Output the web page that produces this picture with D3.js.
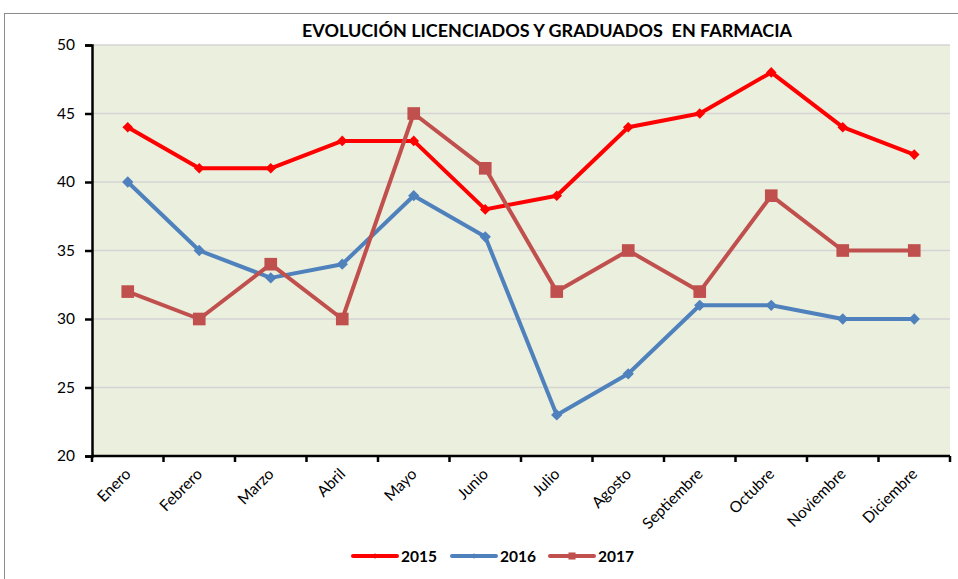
<!DOCTYPE html>
<html>
<head>
<meta charset="utf-8">
<script src="https://cdn.jsdelivr.net/npm/d3@7"></script>
<style>
  body { margin: 0; background: #fff; }
  svg { display: block; font-family: Lato, "Open Sans", sans-serif; }
</style>
</head>
<body>
<svg id="chart"></svg>
<script>
let months = ["Enero", "Febrero", "Marzo", "Abril", "Mayo", "Junio", "Julio",
    "Agosto", "Septiembre", "Octubre", "Noviembre", "Diciembre"];
let values2015 = [44, 41, 41, 43, 43, 38, 39, 44, 45, 48, 44, 42];
let values2016 = [40, 35, 33, 34, 39, 36, 23, 26, 31, 31, 30, 30];
let values2017 = [32, 30, 34, 30, 45, 41, 32, 35, 32, 39, 35, 35];
let yTicks = [20, 25, 30, 35, 40, 45, 50];

function chartConfig(){
    let width = 958;
    let height = 579;
    let margin = {top: 45, bottom: 123, left: 92, right: 8};
    let bodyWidth = width - margin.left - margin.right;
    let bodyHeight = height - margin.top - margin.bottom;
    let container = d3.select("#chart")
        .attr("width", width)
        .attr("height", height);
    return {width, height, margin, bodyWidth, bodyHeight, container};
}

function chartScales(config){
    let {bodyWidth, bodyHeight} = config;
    let xScale = d3.scaleBand().domain(months).range([0, bodyWidth]);
    let yScale = d3.scaleLinear().domain([20, 50]).range([bodyHeight, 0]);
    return {xScale, yScale};
}

function drawChart(){
    let config = chartConfig();
    let {margin, container, bodyWidth, bodyHeight, width, height} = config;
    let {xScale, yScale} = chartScales(config);

    // outer frame
    container.append("rect")
        .attr("x", 4.5).attr("y", 13.5)
        .attr("width", width).attr("height", height)
        .attr("fill", "none").attr("stroke", "#8c8c8c").attr("stroke-width", 1);

    container.append("text")
        .attr("x", 302).attr("y", 37)
        .attr("font-weight", "bold").attr("font-size", 16.5)
        .attr("textLength", 490).attr("lengthAdjust", "spacingAndGlyphs")
        .attr("fill", "#000")
        .style("white-space", "pre")
        .text("EVOLUCIÓN LICENCIADOS Y GRADUADOS  EN FARMACIA");

    let body = container.append("g")
        .attr("transform", `translate(${margin.left},${margin.top})`);

    body.append("rect")
        .attr("width", bodyWidth).attr("height", bodyHeight)
        .attr("fill", "#EBEFDE");

    body.selectAll(".grid").data(yTicks.slice(1))
        .enter().append("line")
        .attr("x1", 0).attr("x2", bodyWidth)
        .attr("y1", d => yScale(d)).attr("y2", d => yScale(d))
        .attr("stroke", "#d4d4d4").attr("stroke-width", 1.5);

    // y axis
    let yAxis = body.append("g")
        .call(d3.axisLeft(yScale).tickValues(yTicks).tickSize(7).tickPadding(10));
    yAxis.select(".domain").attr("stroke", "#000").attr("stroke-width", 2.5);
    yAxis.selectAll(".tick line").attr("stroke", "#000").attr("stroke-width", 2.5);
    yAxis.selectAll("text").attr("font-size", 15.5).attr("fill", "#000")
        .attr("font-family", "Lato, sans-serif");

    // x axis, ticks sit between the categories
    let xAxisG = body.append("g").attr("transform", `translate(0,${bodyHeight})`);
    xAxisG.append("line")
        .attr("x1", 0).attr("x2", bodyWidth)
        .attr("stroke", "#000").attr("stroke-width", 2.5);
    let bounds = months.map(m => xScale(m)).concat([bodyWidth]);
    xAxisG.selectAll(".xt").data(bounds)
        .enter().append("line")
        .attr("x1", d => d).attr("x2", d => d)
        .attr("y1", 0).attr("y2", 6)
        .attr("stroke", "#000").attr("stroke-width", 2.5);
    xAxisG.selectAll(".xl").data(months)
        .enter().append("text")
        .attr("transform", d => `translate(${xScale(d) + xScale.bandwidth() / 2 + 4},${19}) rotate(-45)`)
        .attr("text-anchor", "end")
        .attr("font-size", 15.5).attr("fill", "#000")
        .text(d => d);

    let series = [
        {name: "2015", values: values2015, color: "#FF0000", shape: d3.symbolSquare, size: 56, rot: 45},
        {name: "2016", values: values2016, color: "#4F81BD", shape: d3.symbolSquare, size: 64, rot: 45},
        {name: "2017", values: values2017, color: "#C0504D", shape: d3.symbolSquare, size: 160, rot: 0}
    ];

    let line = d3.line()
        .x((d, i) => xScale(months[i]) + xScale.bandwidth() / 2)
        .y(d => yScale(d));

    series.forEach(s => {
        body.append("path")
            .datum(s.values)
            .attr("d", line)
            .attr("fill", "none")
            .attr("stroke", s.color)
            .attr("stroke-width", 4)
            .attr("stroke-linejoin", "round");
        body.selectAll(".m" + s.name).data(s.values)
            .enter().append("path")
            .attr("d", d3.symbol().type(s.shape).size(s.size))
            .attr("transform", (d, i) => `translate(${xScale(months[i]) + xScale.bandwidth() / 2},${yScale(d)}) rotate(${s.rot})`)
            .attr("fill", s.color);
    });

    // legend
    let legendX = [353, 452, 550];
    let legend = container.append("g");
    series.forEach((s, i) => {
        let g = legend.append("g").attr("transform", `translate(${legendX[i]},556)`);
        g.append("line")
            .attr("x1", 0).attr("x2", 44)
            .attr("stroke", s.color).attr("stroke-width", 4)
            .attr("stroke-linecap", "round");
        g.append("path")
            .attr("d", d3.symbol().type(s.shape).size(s.name === "2017" ? 50 : 16))
            .attr("transform", `translate(22,0) rotate(${s.rot})`)
            .attr("fill", s.color);
        g.append("text")
            .attr("x", 48).attr("y", 6)
            .attr("font-weight", "bold").attr("font-size", 15.5)
            .attr("fill", "#000")
            .text(s.name);
    });
}

drawChart();
</script>
</body>
</html>
